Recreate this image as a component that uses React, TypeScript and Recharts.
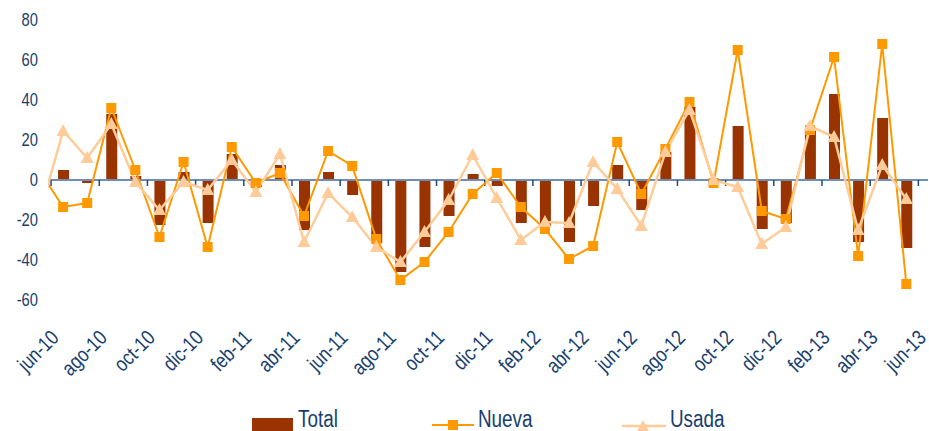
import React from "react";
import {
  ComposedChart,
  Bar,
  Line,
  XAxis,
  YAxis,
  ReferenceLine,
  Legend,
} from "recharts";

const months = [
  "jun-10", "jul-10", "ago-10", "sep-10", "oct-10", "nov-10", "dic-10",
  "ene-11", "feb-11", "mar-11", "abr-11", "may-11", "jun-11", "jul-11",
  "ago-11", "sep-11", "oct-11", "nov-11", "dic-11", "ene-12", "feb-12",
  "mar-12", "abr-12", "may-12", "jun-12", "jul-12", "ago-12", "sep-12",
  "oct-12", "nov-12", "dic-12", "ene-13", "feb-13", "mar-13", "abr-13",
  "may-13", "jun-13",
];

const total = [
  -5, 5, -1.5, 33, 2, -22.5, 4, -21.5, 13, -3.5, 7.5, -25, 4, -7.5, -31.5,
  -46, -33.5, -18, 3, -3, -21.5, -23.5, -31, -13, 7.5, -15, 14, 36.5, -1.5,
  27, -24.5, -21.5, 25.5, 43, -31, 31, -34,
];

const nueva = [
  5, -13.5, -11.5, 36, 5, -28.5, 9, -33.5, 16.5, -1.5, 3.5, -18, 14.5, 7,
  -29.5, -50, -41, -26, -7, 3.5, -13.5, -24.5, -39.5, -33, 19, -7, 15.5, 39,
  -1.5, 65, -15.5, -19.5, 25, 61.5, -38, 68, -52,
];

const usada = [
  -18, 24.5, 11, 28, -1, -15, -1, -5, 10, -6, 13, -31, -6.5, -18.5, -33.5,
  -41, -26, -10, 12.5, -9, -30, -21, -21.5, 9, -4.5, -23, 14, 35, 0, -3.5,
  -32, -23.5, 27, 21.5, -25, 7.5, -9.5,
];

const yTicks = [-60, -40, -20, 0, 20, 40, 60, 80];
const labelIdx = [0, 2, 4, 6, 8, 10, 12, 14, 16, 18, 20, 22, 24, 26, 28, 30, 32, 34, 36];
const tickBounds = labelIdx.map((i) => i + 0.5);

const data = months.map((m, i) => ({
  idx: i,
  month: m,
  Total: total[i],
  Nueva: nueva[i],
  Usada: usada[i],
}));

const FONT = "'Liberation Sans', Arial, sans-serif";
const NARROW = 0.82;
const TEXT = "#17406E";
const C_TOTAL = "#993300";
const C_NUEVA = "#FF9900";
const C_USADA = "#FFCC99";

const XTick = (props: any) => {
  const { x, y, payload } = props;
  const px = x + 21;
  const py = y + 39;
  return (
    <text
      x={0}
      y={0}
      textAnchor="end"
      fill={TEXT}
      fontSize={21}
      fontFamily={FONT}
      transform={`translate(${px}, ${py}) rotate(-45) scale(${NARROW}, 1)`}
    >
      {months[payload.value]}
    </text>
  );
};

const YTick = (props: any) => {
  const { x, y, payload } = props;
  return (
    <text
      x={0}
      y={0}
      dy="0.36em"
      textAnchor="end"
      fill={TEXT}
      fontSize={18}
      fontFamily={FONT}
      transform={`translate(${x}, ${y}) scale(${NARROW}, 1)`}
    >
      {payload.value}
    </text>
  );
};

const SquareDot = (props: any) => {
  const { cx, cy } = props;
  if (cx == null || cy == null) return <g />;
  return <rect x={cx - 5} y={cy - 5} width={10} height={10} fill={C_NUEVA} />;
};

const TriDot = (props: any) => {
  const { cx, cy } = props;
  if (cx == null || cy == null) return <g />;
  return (
    <polygon
      points={`${cx},${cy - 7} ${cx + 6.5},${cy + 5} ${cx - 6.5},${cy + 5}`}
      fill={C_USADA}
    />
  );
};

const legendText = (left: number, label: string) => (
  <span
    style={{
      position: "absolute",
      left,
      top: 7,
      fontSize: 23,
      lineHeight: "23px",
      color: TEXT,
      transform: `scaleX(${NARROW})`,
      transformOrigin: "left top",
      whiteSpace: "nowrap",
    }}
  >
    {label}
  </span>
);

const LegendContent = () => (
  <div style={{ position: "relative", width: 929, height: 30, fontFamily: FONT }}>
    <div style={{ position: "absolute", left: 252, top: 17, width: 41, height: 14, background: C_TOTAL }} />
    {legendText(298, "Total")}
    <svg style={{ position: "absolute", left: 432, top: 14 }} width={42} height={17}>
      <line x1={0} y1={10} x2={42} y2={10} stroke={C_NUEVA} strokeWidth={2} />
      <rect x={16} y={5} width={10} height={10} fill={C_NUEVA} />
    </svg>
    {legendText(478, "Nueva")}
    <svg style={{ position: "absolute", left: 622, top: 14 }} width={44} height={17}>
      <line x1={0} y1={11} x2={44} y2={11} stroke={C_USADA} strokeWidth={2.5} />
      <polygon points="21,5 27.5,17 14.5,17" fill={C_USADA} />
    </svg>
    {legendText(670, "Usada")}
  </div>
);

export default function App() {
  return (
    <div style={{ position: "absolute", left: 0, top: 0, width: 929, height: 431, background: "#fff" }}>
      <ComposedChart
        width={929}
        height={431}
        data={data}
        margin={{ top: 20, right: 1, bottom: 0, left: 0 }}
      >
        <XAxis
          dataKey="idx"
          type="number"
          domain={[0.373, 36.9]}
          allowDataOverflow
          ticks={labelIdx}
          interval={0}
          axisLine={false}
          tickLine={false}
          tickSize={0}
          tickMargin={0}
          height={101}
          tick={<XTick />}
        />
        <YAxis
          type="number"
          domain={[-60, 80]}
          ticks={yTicks}
          interval={0}
          axisLine={false}
          tickLine={false}
          tickSize={0}
          tickMargin={10}
          width={48}
          tick={<YTick />}
        />
        <Legend verticalAlign="bottom" content={<LegendContent />} wrapperStyle={{ left: 0, width: 929, bottom: 0 }} />
        <Bar dataKey="Total" fill={C_TOTAL} barSize={11} isAnimationActive={false} />
        <ReferenceLine y={0} stroke="#6F8DB5" strokeWidth={2} />
        {tickBounds.map((b) => (
          <ReferenceLine
            key={b}
            segment={[{ x: b, y: 0 }, { x: b, y: -3 }]}
            stroke="#1F497D"
            strokeWidth={1.5}
          />
        ))}
        <Line
          dataKey="Nueva"
          stroke={C_NUEVA}
          strokeWidth={2}
          dot={<SquareDot />}
          activeDot={false}
          isAnimationActive={false}
        />
        <Line
          dataKey="Usada"
          stroke={C_USADA}
          strokeWidth={2.5}
          dot={<TriDot />}
          activeDot={false}
          isAnimationActive={false}
        />
      </ComposedChart>
    </div>
  );
}
